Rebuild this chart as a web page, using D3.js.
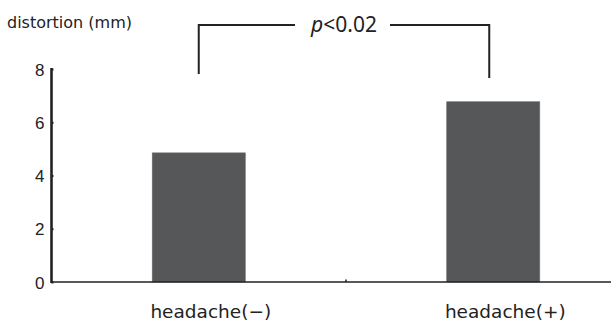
<!DOCTYPE html>
<meta charset="utf-8">
<style>
body { margin: 0; background: #fff; }
svg { display: block; font-family: "Noto Sans", sans-serif; }
.bar { fill: #565759; stroke: #6a6b6d; stroke-width: 0.6px; }
.tick text { font-size: 17px; fill: #222; }
.label { font-family: "DejaVu Sans", sans-serif; font-size: 18.5px; fill: #222; }
.ytitle { font-family: "DejaVu Sans", sans-serif; font-size: 16px; fill: #222; }
.sig { font-size: 21px; fill: #222; }
.bracket { fill: none; stroke: #222; stroke-width: 2px; }
</style>
<body>
<script src="https://cdn.jsdelivr.net/npm/d3@7"></script>
<script>

var groups = ["headache(\u2212)", "headache(+)"];
var distortion = [4.85, 6.77];
var yTicks = [0, 2, 4, 6, 8];
var pLabel = "0.02";

var width = 611, height = 324;

var x = d3.scaleBand()
    .domain(groups)
    .range([51.5, 640.5])
    .paddingInner(0)
    .paddingOuter(0);

var y = d3.scaleLinear()
    .domain([0, 8])
    .range([282, 69]);

var barW = x.bandwidth() * 0.316;

var svg = d3.select("body").append("svg")
    .attr("width", width)
    .attr("height", height);

// bars
svg.selectAll(".bar")
    .data(groups)
  .enter().append("rect")
    .attr("class", "bar")
    .attr("x", function(d) { return x(d) + x.bandwidth() / 2 - barW / 2; })
    .attr("width", barW)
    .attr("y", function(d, i) { return y(distortion[i]); })
    .attr("height", function(d, i) { return y(0) - y(distortion[i]); });

// x axis line
svg.append("line")
    .attr("x1", x.range()[0]).attr("x2", width)
    .attr("y1", y(0)).attr("y2", y(0))
    .attr("stroke", "#222").attr("stroke-width", 1.6);

// small tick between groups
svg.append("line")
    .attr("x1", x(groups[1])).attr("x2", x(groups[1]))
    .attr("y1", y(0) - 2.5).attr("y2", y(0))
    .attr("stroke", "#222").attr("stroke-width", 1.5);

// y axis
var yAxis = d3.axisRight(y).tickValues(yTicks).tickSize(2).tickFormat(d3.format("d"));
var ag = svg.append("g")
    .attr("transform", "translate(" + x.range()[0] + ",0)")
    .call(yAxis);
ag.select(".domain").remove();
ag.selectAll(".tick line").attr("stroke", "#222").attr("stroke-width", 2);
ag.selectAll(".tick text")
    .attr("x", -7)
    .attr("text-anchor", "end")
    .attr("dy", "0.36em");
ag.append("line")
    .attr("x1", 0).attr("x2", 0)
    .attr("y1", y(8) - 1).attr("y2", y(0) + 1)
    .attr("stroke", "#222").attr("stroke-width", 2.6);

// axis title
svg.append("text")
    .attr("class", "ytitle")
    .attr("x", 7)
    .attr("y", 28)
    .text("distortion (mm)");

// category labels
svg.selectAll(".label")
    .data(groups)
  .enter().append("text")
    .attr("class", "label")
    .attr("x", function(d) { return x(d) + x.bandwidth() / 2 + 12; })
    .attr("y", 318)
    .attr("text-anchor", "middle")
    .text(function(d) { return d; });

// significance bracket
var xl = x(groups[0]) + x.bandwidth() / 2,
    xr = x(groups[1]) + x.bandwidth() / 2 - 4,
    yb = 25;
svg.append("path")
    .attr("class", "bracket")
    .attr("d", "M" + xl + "," + 74 + "V" + yb + "H" + 295);
svg.append("path")
    .attr("class", "bracket")
    .attr("d", "M" + 390 + "," + yb + "H" + xr + "V" + 78);

var t = svg.append("text")
    .attr("class", "sig")
    .attr("x", 344)
    .attr("y", 32)
    .attr("text-anchor", "middle");
t.append("tspan").style("font-style", "italic").text("p");
t.append("tspan").text("<" + pLabel);

</script>
</body>
